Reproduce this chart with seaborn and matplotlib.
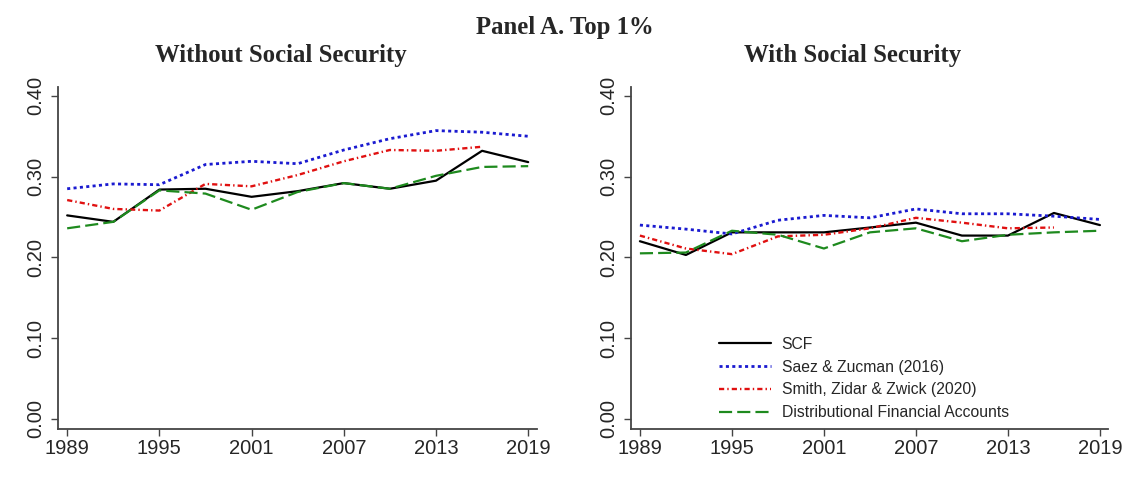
import matplotlib
matplotlib.use("Agg")
import matplotlib.pyplot as plt
import seaborn as sns
import pandas as pd

years = [1989, 1992, 1995, 1998, 2001, 2004, 2007, 2010, 2013, 2016, 2019]
xticks = [1989, 1995, 2001, 2007, 2013, 2019]
yticks = [0.0, 0.1, 0.2, 0.3, 0.4]

# Panel A, without social security
scf_wo = [0.252, 0.244, 0.284, 0.285, 0.275, 0.282, 0.292, 0.285, 0.295, 0.332, 0.318]
sz_wo = [0.285, 0.291, 0.290, 0.315, 0.319, 0.316, 0.333, 0.347, 0.357, 0.355, 0.350]
szz_wo = [0.271, 0.260, 0.258, 0.291, 0.288, 0.302, 0.319, 0.333, 0.332, 0.337]
dfa_wo = [0.236, 0.244, 0.283, 0.279, 0.259, 0.281, 0.292, 0.285, 0.301, 0.312, 0.313]

# with social security
scf_w = [0.220, 0.203, 0.231, 0.231, 0.231, 0.237, 0.243, 0.227, 0.227, 0.255, 0.240]
sz_w = [0.240, 0.235, 0.229, 0.246, 0.252, 0.249, 0.260, 0.254, 0.254, 0.251, 0.247]
szz_w = [0.227, 0.211, 0.204, 0.226, 0.228, 0.236, 0.249, 0.243, 0.236, 0.237]
dfa_w = [0.205, 0.206, 0.233, 0.228, 0.211, 0.231, 0.236, 0.220, 0.228, 0.231, 0.233]

labels = ["SCF", "Saez & Zucman (2016)", "Smith, Zidar & Zwick (2020)",
          "Distributional Financial Accounts"]

sns.set_style("ticks")
plt.rcParams['font.family'] = ['Liberation Sans', 'DejaVu Sans']

# colour, linestyle, width for each series
styles = [
    ("black", "-", 1.6),
    ("#1a1ad0", (0, (1.1, 1.2)), 2.0),
    ("#e01010", (0, (2.2, 1.3, 0.6, 1.3)), 1.7),
    ("#1e8a1e", (0, (5.9, 2.3)), 1.6),
]

fig = plt.figure(figsize=(11.43, 4.82), dpi=100)
ax1 = fig.add_axes([0.0507, 0.110, 0.4188, 0.7095])
ax2 = fig.add_axes([0.5518, 0.110, 0.4179, 0.7095])

def draw(ax, series):
    for vals, lab, (c, ls, lw) in zip(series, labels, styles):
        df = pd.DataFrame({"year": years[:len(vals)], "share": vals})
        sns.lineplot(data=df, x="year", y="share", ax=ax, color=c,
                     linestyle=ls, linewidth=lw, label=lab, legend=False)
    ax.set_xlim(1988.4, 2019.55)
    ax.set_ylim(-0.0125, 0.411)
    ax.set_xticks(xticks)
    ax.set_yticks(yticks)
    ax.set_yticklabels([f"{v:.2f}" for v in yticks], rotation=90, va="center")
    ax.set_xlabel("")
    ax.set_ylabel("")
    ax.tick_params(labelsize=14.5, length=5, width=1, color="#444444", pad=2)
    ax.tick_params(axis="y", pad=4)
    for s in ["top", "right"]:
        ax.spines[s].set_visible(False)
    for s in ["left", "bottom"]:
        ax.spines[s].set_color("#444444")
        ax.spines[s].set_linewidth(1.3)

draw(ax1, [scf_wo, sz_wo, szz_wo, dfa_wo])
draw(ax2, [scf_w, sz_w, szz_w, dfa_w])

h, l = ax2.get_legend_handles_labels()
fig.legend(h, l, loc="lower left", bbox_to_anchor=(0.629, 0.128), frameon=False,
           fontsize=11.3, handlelength=3.3, handletextpad=0.7, labelspacing=0.5,
           borderpad=0, borderaxespad=0)

fig.text(0.494, 0.942, "Panel A. Top 1%", ha="center", va="center",
         fontsize=17.8, fontweight="bold", family=["Liberation Serif"])
fig.text(0.246, 0.884, "Without Social Security", ha="center", va="center",
         fontsize=17.8, fontweight="bold", family=["Liberation Serif"])
fig.text(0.746, 0.884, "With Social Security", ha="center", va="center",
         fontsize=17.8, fontweight="bold", family=["Liberation Serif"])

fig.savefig("out.png", dpi=100)
